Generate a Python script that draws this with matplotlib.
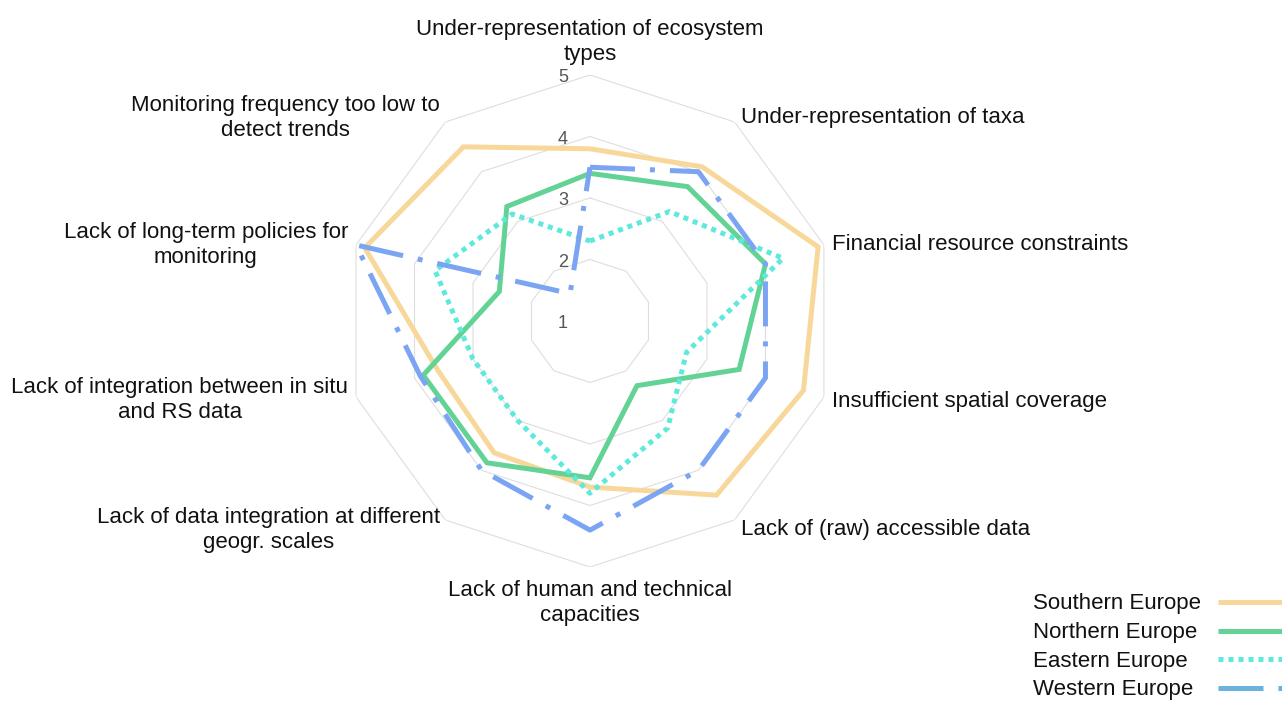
import numpy as np
import matplotlib
matplotlib.use("Agg")
import matplotlib.pyplot as plt
from matplotlib.lines import Line2D

plt.rcParams["font.family"] = ["Liberation Sans", "DejaVu Sans"]

categories = [
    "Under-representation of ecosystem\ntypes",
    "Under-representation of taxa",
    "Financial resource constraints",
    "Insufficient spatial coverage",
    "Lack of (raw) accessible data",
    "Lack of human and technical\ncapacities",
    "Lack of data integration at different\ngeogr. scales",
    "Lack of integration between in situ\nand RS data",
    "Lack of long-term policies for\nmonitoring",
    "Monitoring frequency too low to\ndetect trends",
]
southern = [3.8, 4.1, 4.9, 4.65, 4.5, 3.7, 3.65, 3.6, 4.85, 4.5]
northern = [3.4, 3.7, 4.0, 3.55, 2.3, 3.55, 3.85, 3.85, 2.55, 3.3]
eastern = [2.3, 3.2, 4.3, 2.65, 3.15, 3.8, 3.0, 3.0, 3.65, 3.15]
western = [3.5, 4.0, 4.0, 4.0, 4.0, 4.4, 4.0, 3.9, 5.0, 1.55]
regions = ["Southern Europe", "Northern Europe", "Eastern Europe", "Western Europe"]
levels = [1, 2, 3, 4, 5]

STYLES = [
    dict(color="#F8D89A", ls="-"),
    dict(color="#62D394", ls="-"),
    dict(color="#5FE9DC", ls=(0, (1, 1))),
    dict(color="#7BA5F3", ls=(0, (9, 3, 1, 3))),
]
LEGEND_COLORS = ["#F8D89A", "#62D394", "#5FE9DC", "#6CB2DE"]
LW = 3.6

# label placement: offset in pixels from the outer vertex, alignment
LABEL_POS = [
    (0, 10, "center", "bottom"),
    (6, 4, "left", "center"),
    (8, 0, "left", "center"),
    (8, -4, "left", "center"),
    (6, -9, "left", "center"),
    (0, -13, "center", "top"),
    (-5, -10, "right", "center"),
    (-8, -3, "right", "center"),
    (-8, 0, "right", "center"),
    (-6, 4, "right", "center"),
]

fig = plt.figure(figsize=(12.82, 7.02), dpi=100)
ax = fig.add_axes([0.2683, 0.1923, 0.3838, 0.7009], projection="polar")
ax.set_theta_zero_location("N")
ax.set_theta_direction(-1)
ax.set_ylim(1, 5)
ax.grid(False)
ax.spines["polar"].set_visible(False)
ax.set_xticks([])
ax.set_yticks([])
ax.patch.set_alpha(0)

n = len(categories)
angles = np.linspace(0, 2 * np.pi, n, endpoint=False)
closed = np.append(angles, angles[0])

for lvl in levels[1:]:
    ax.plot(closed, [lvl] * (n + 1), color="#DEDEDE", lw=0.8, zorder=1)
for lvl in levels:
    ax.annotate(str(lvl), xy=(0, lvl), xytext=(-27, -3), textcoords="offset pixels",
                ha="center", va="center", fontsize=13, color="#555555")

for vals, st in zip([southern, northern, eastern, western], STYLES):
    ax.plot(closed, vals + vals[:1], color=st["color"], linestyle=st["ls"],
            lw=LW, solid_capstyle="butt", dash_capstyle="butt", solid_joinstyle="miter", zorder=3)

for ang, lab, (dx, dy, ha, va) in zip(angles, categories, LABEL_POS):
    ax.annotate(lab, xy=(ang, 5), xytext=(dx, dy), textcoords="offset pixels",
                ha=ha, va=va, multialignment="center", fontsize=16, linespacing=1.25,
                color="#111111", annotation_clip=False)

# legend at bottom right: text first, sample line after (runs off the edge)
W, H = 1282, 702
for i, (name, st, col) in enumerate(zip(regions, STYLES, LEGEND_COLORS)):
    y = 1 - (602 + 28.5 * i) / H
    fig.text(1033 / W, y - 2 / H, name, ha="left", va="center", fontsize=16, color="#111111")
    fig.add_artist(Line2D([1218 / W, 1300 / W], [y, y], transform=fig.transFigure,
                          color=col, linestyle=st["ls"], lw=LW, dash_capstyle="butt",
                          solid_capstyle="butt"))

fig.savefig("out.png", dpi=100)
